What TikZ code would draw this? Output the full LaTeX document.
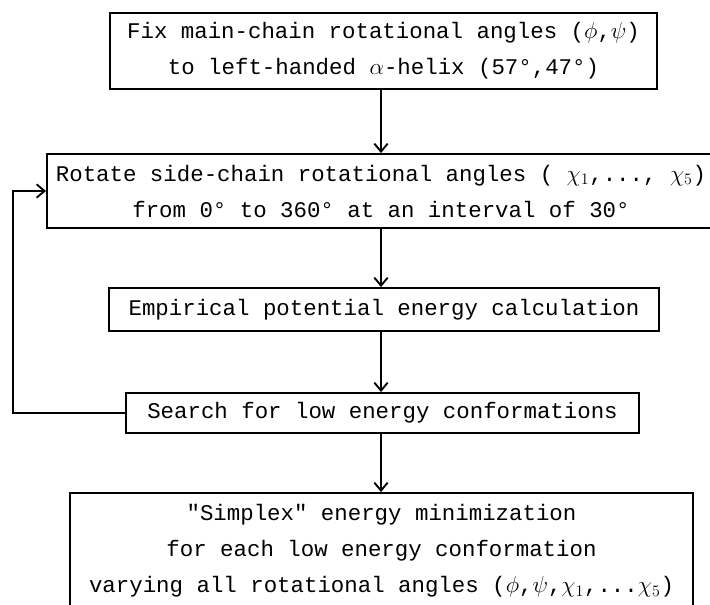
\documentclass[tikz,border=0pt]{standalone}
\usepackage{fontspec}
\setmainfont{Liberation Mono}
\usetikzlibrary{arrows.meta}

\newcommand{\px}{0.75pt}
\tikzset{
    stepbox/.style={draw, line width=1.4pt, inner sep=0pt, align=center,
        font=\fontsize{16.8}{27}\selectfont},
    flow/.style={line width=1.4pt, -{Straight Barb[length=6pt,width=10pt]}}
}

\begin{document}
\begin{tikzpicture}[x=\px, y=-\px]
            \useasboundingbox (0,0) rectangle (710,605);
            \clip (0,0) rectangle (710,605);
            \node[stepbox, minimum width=547*\px, minimum height=76*\px] (fixbox) at (383.5,51)
                {Fix main-chain rotational angles ($\phi$,$\psi$)\\to left-handed $\alpha$-helix (57°,47°)};
            \node[stepbox, minimum width=668*\px, minimum height=74*\px] (rotbox) at (381,191)
                {Rotate side-chain rotational angles ( $\chi_1$,..., $\chi_5$)\\from 0° to 360° at an interval of 30°};
            \node[stepbox, minimum width=550*\px, minimum height=43*\px] (calcbox) at (384,309.5)
                {Empirical potential energy calculation};
            \node[stepbox, minimum width=513*\px, minimum height=40*\px] (srchbox) at (382.5,413)
                {Search for low energy conformations};
            \node[stepbox, minimum width=623*\px, minimum height=116*\px] (simpbox) at (381.5,551)
                {\textquotedbl Simplex\textquotedbl{} energy minimization\\for each low energy conformation\\varying all rotational angles ($\phi$,$\psi$,$\chi_1$,...$\chi_5$)};
            \coordinate (back) at (13,413);
            \draw[flow] (fixbox.south -| 381,0) -- (rotbox.north -| 381,0);
            \draw[flow] (rotbox.south -| 381,0) -- (calcbox.north -| 381,0);
            \draw[flow] (calcbox.south -| 381,0) -- (srchbox.north -| 381,0);
            \draw[flow] (srchbox.south -| 381,0) -- (simpbox.north -| 381,0);
            \draw[flow] (srchbox.west) -- (back) |- (rotbox.west);
        \end{tikzpicture}
\end{document}
